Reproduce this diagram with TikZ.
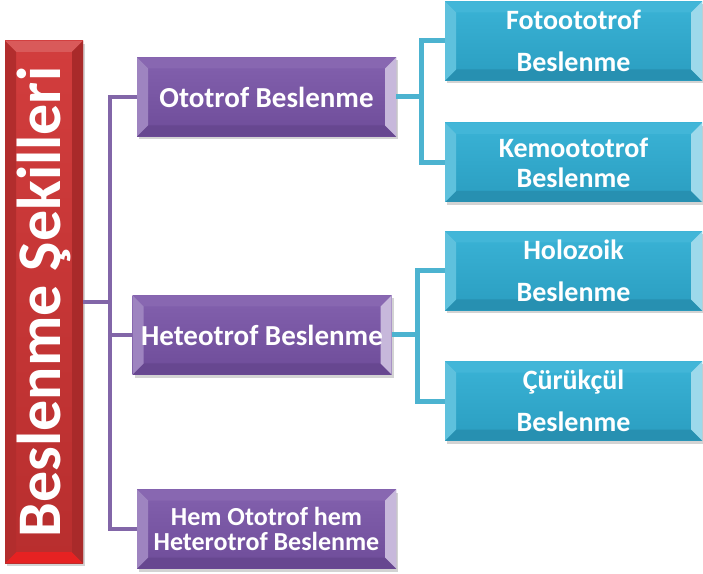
\documentclass[tikz,border=0pt]{standalone}
\usepackage{fontspec}
\setmainfont{Carlito}
\usepackage{graphicx}
\usetikzlibrary{shadows}

\definecolor{redtop}{HTML}{D23D3D}
\definecolor{redbot}{HTML}{B82E2E}
\definecolor{purtop}{HTML}{8361AE}
\definecolor{purbot}{HTML}{6E4C99}
\definecolor{cyantop}{HTML}{3AB3D6}
\definecolor{cyanbot}{HTML}{2A9DC0}
\definecolor{purline}{HTML}{8266A8}
\definecolor{cyanline}{HTML}{4CB3D0}

\newcommand{\bv}{11pt}
\tikzset{
  bevel/.style n args={4}{path picture={
    \fill[#1] (path picture bounding box.north west) -- (path picture bounding box.north east)
      -- ([shift={(-\bv,-\bv)}]path picture bounding box.north east)
      -- ([shift={(\bv,-\bv)}]path picture bounding box.north west) -- cycle;
    \fill[#2] (path picture bounding box.south west) -- (path picture bounding box.south east)
      -- ([shift={(-\bv,\bv)}]path picture bounding box.south east)
      -- ([shift={(\bv,\bv)}]path picture bounding box.south west) -- cycle;
    \fill[#3] (path picture bounding box.north west) -- ([shift={(\bv,-\bv)}]path picture bounding box.north west)
      -- ([shift={(\bv,\bv)}]path picture bounding box.south west) -- (path picture bounding box.south west) -- cycle;
    \fill[#4] (path picture bounding box.north east) -- ([shift={(-\bv,-\bv)}]path picture bounding box.north east)
      -- ([shift={(-\bv,\bv)}]path picture bounding box.south east) -- (path picture bounding box.south east) -- cycle;
  }}
}

\begin{document}
\begin{tikzpicture}[x=1pt, y=1pt]
    \tikzstyle{rootbox} = [shape=rectangle, minimum width=78pt, minimum height=522pt, inner sep=0pt,
        top color=redtop, bottom color=redbot, text=white,
        font=\fontsize{62}{62}\selectfont\bfseries,
        drop shadow={opacity=0.35, shadow xshift=2pt, shadow yshift=-3pt},
        bevel={redtop!85!white}{red!45!redtop}{redbot!97!black}{redbot!92!black}]
    \tikzstyle{purbox} = [shape=rectangle, minimum width=259pt, minimum height=79pt, inner sep=0pt,
        top color=purtop, bottom color=purbot, text=white, align=center,
        font=\fontsize{29}{34}\selectfont\bfseries,
        drop shadow={opacity=0.35, shadow xshift=2pt, shadow yshift=-3pt},
        bevel={purtop!96!white}{purbot!94!black}{purtop!78!white}{purtop!45!white}]
    \tikzstyle{cyanbox} = [shape=rectangle, minimum width=257pt, minimum height=79pt, inner sep=0pt,
        top color=cyantop, bottom color=cyanbot, text=white, align=center,
        font=\fontsize{28}{42}\selectfont\bfseries,
        drop shadow={opacity=0.35, shadow xshift=2pt, shadow yshift=-3pt},
        bevel={cyantop!96!white}{cyanbot!92!black}{cyantop!82!white}{cyantop!50!white}]
    \tikzstyle{pline} = [draw=purline, line width=4pt]
    \tikzstyle{cline} = [draw=cyanline, line width=5pt]

    \useasboundingbox (0,0) rectangle (703,573);

    % 左侧的红色主框
    \node (root) [rootbox] at (44,271) {\rotatebox{90}{Beslenme Şekilleri}};

    % 紫色框
    \node (oto) [purbox] at (266.5,476) {Ototrof Beslenme};
    \node (het) [purbox] at (262,238)   {Heteotrof Beslenme};
    \node (hem) [purbox, font=\fontsize{26}{25}\selectfont\bfseries] at (266.5,44)
        {Hem Ototrof hem\\Heterotrof Beslenme};

    % 青色框
    \node (foto)  [cyanbox] at (573.5,532) {Fotoototrof\\Beslenme};
    \node (kemo)  [cyanbox, font=\fontsize{28}{30}\selectfont\bfseries] at (573.5,410.5) {Kemoototrof\\Beslenme};
    \node (holo)  [cyanbox] at (573.5,302) {Holozoik\\Beslenme};
    \node (curuk) [cyanbox] at (573.5,172) {Çürükçül\\Beslenme};

    % 连接线
    \coordinate (pj) at ([xshift=27pt]root.east);
    \draw [pline] (root.east) -- (pj) |- (oto.west);
    \draw [pline] (pj) |- (het.west);
    \draw [pline] (pj) |- (hem.west);

    \coordinate (cj1) at ([xshift=25pt]oto.east);
    \draw [cline] (oto.east) -- (cj1) |- (foto.west);
    \draw [cline] (cj1) |- (kemo.west);

    \coordinate (cj2) at ([xshift=26pt]het.east);
    \draw [cline] (het.east) -- (cj2) |- (holo.west);
    \draw [cline] (cj2) |- (curuk.west);
\end{tikzpicture}
\end{document}
